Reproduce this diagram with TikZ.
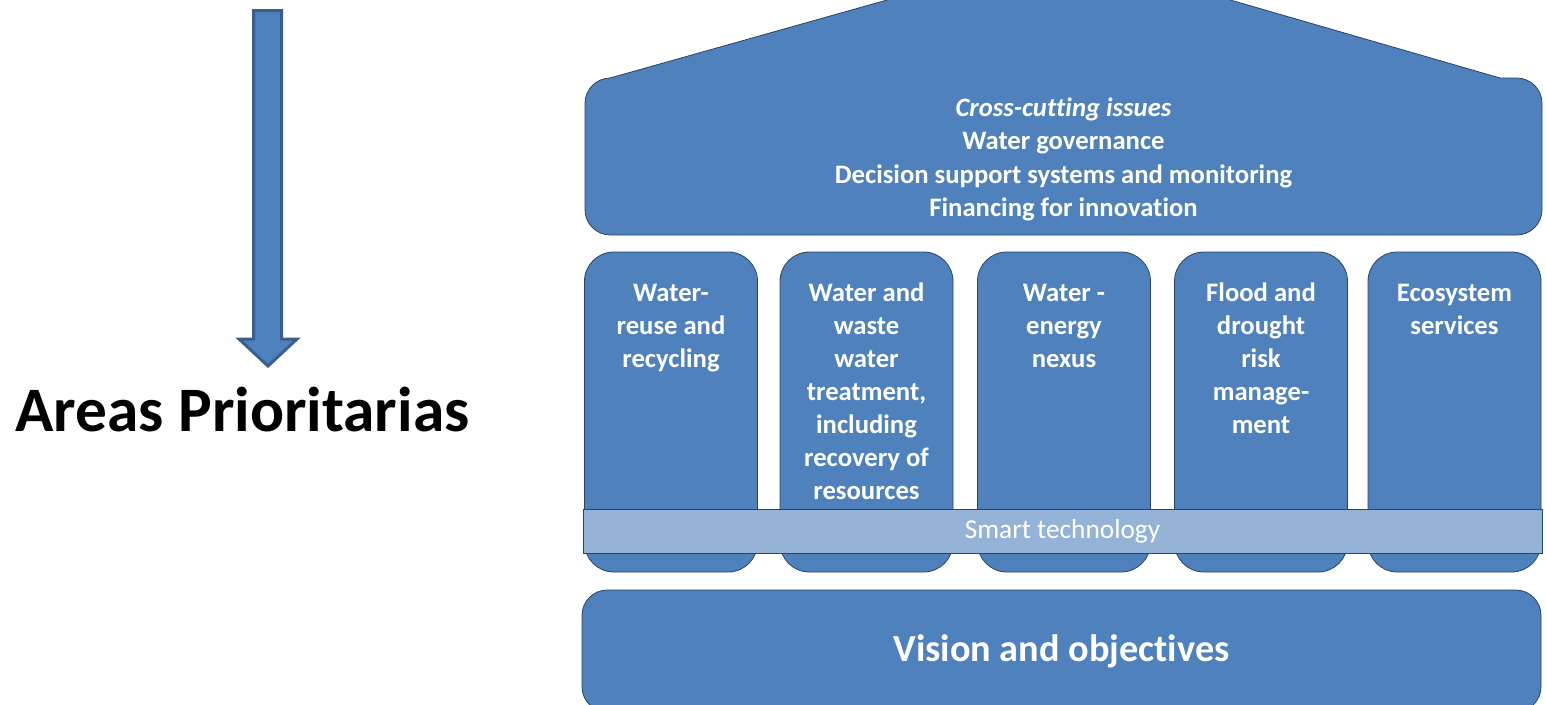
\documentclass[tikz,border=0pt]{standalone}
\usepackage{fontspec}
\setmainfont{Carlito}[Ligatures=NoCommon]
\usetikzlibrary{positioning}
\usepackage{xcolor}

\definecolor{houseblue}{HTML}{4F81BD}
\definecolor{bandblue}{HTML}{95B3D7}
\definecolor{edgeblue}{HTML}{2B4465}
\definecolor{arrowedge}{HTML}{3A5F8C}

\tikzset{
  block/.style={draw=edgeblue, fill=houseblue, line width=0.6pt, rounded corners=19pt, inner sep=0pt},
  pillar/.style={block, minimum width=129.75pt, minimum height=240pt, rounded corners=22pt},
  pillartext/.style={text=white, font=\bfseries\fontsize{20}{24.75}\selectfont, align=center, inner sep=0pt},
}

\begin{document}
\begin{tikzpicture}[x=0.75pt, y=-0.75pt]

\useasboundingbox (0,0) rectangle (1546,704);
\clip (0,0) rectangle (1546,704);

%arrow
\filldraw[draw=arrowedge, fill=houseblue, line width=2.25pt, miter limit=10]
  (253.5,10.5) -- (281.5,10.5) -- (281.5,339) -- (297,339) -- (268,366)
  -- (239,339) -- (253.5,339) -- cycle;

\node [anchor=base, font=\bfseries\fontsize{47.5}{57}\selectfont] (areas) at (242.5,431) {Areas Prioritarias};

%roof
\node [block, minimum width=717.75pt, minimum height=117.75pt] (roof) at (1063.5,156.5) {};
\fill[houseblue] (610,84) -- (610,78) -- (1061,-49) -- (1500,78) -- (1500,84) -- cycle;
\draw[edgeblue, line width=0.6pt] (610,78) -- (1061,-49) -- (1500,78);

\node [pillartext, font=\bfseries\fontsize{20}{25.1}\selectfont] (issues) at (1063.5,159.5)
  {\textit{Cross-cutting issues}\\Water governance\\Decision support systems and monitoring\\Financing for innovation};

%pillars
\node [pillar] (reuse) at (671,412) {};
\node [pillar] (treat) at (866.5,412) {};
\node [pillar] (energy) at (1064,412) {};
\node [pillar] (flood) at (1261,412) {};
\node [pillar] (eco) at (1454.5,412) {};

\node [pillartext, below=19.8pt of reuse.north] (reusetext) {\strut Water-\\reuse and\\recycling};
\node [pillartext, below=19.8pt of treat.north] (treattext) {\strut Water and\\waste\\water\\treatment,\\including\\recovery of\\resources};
\node [pillartext, below=19.8pt of energy.north] (energytext) {\strut Water -\\energy\\nexus};
\node [pillartext, below=19.8pt of flood.north] (floodtext) {\strut Flood and\\drought\\risk\\manage-\\ment};
\node [pillartext, below=19.8pt of eco.north] (ecotext) {\strut Ecosystem\\services};

%band
\node [draw=edgeblue, fill=bandblue, line width=0.6pt, minimum width=719.25pt, minimum height=33pt, inner sep=0pt,
  text=white, font=\fontsize{20.5}{24}\selectfont] (smart) at (1062.5,531.5) {Smart technology};

%base
\node [block, minimum width=719.25pt, minimum height=91.5pt, text=white,
  font=\bfseries\fontsize{28.7}{34}\selectfont] (vision) at (1061.5,651) {Vision and objectives};

\end{tikzpicture}
\end{document}
